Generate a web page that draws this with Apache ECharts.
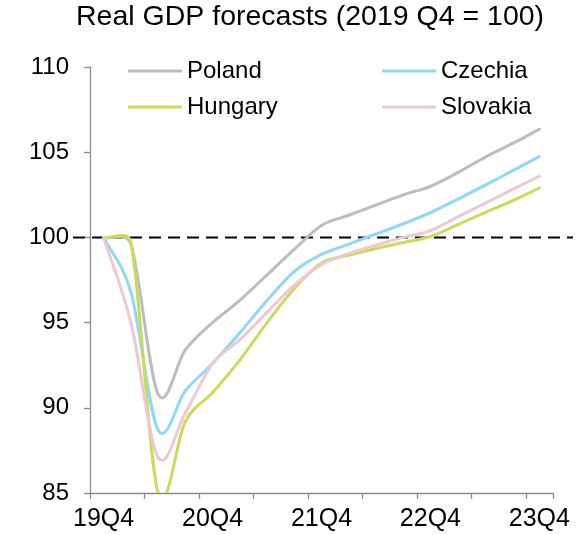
<!DOCTYPE html>
<html>
<head>
<meta charset="utf-8">
<script src="https://cdn.jsdelivr.net/npm/echarts@6/dist/echarts.min.js"></script>
<style>
  html, body { margin: 0; padding: 0; background: #ffffff; }
  #chart { width: 586px; height: 535px; }
</style>
</head>
<body>
<div id="chart"></div>
<script>
// Quarterly categories, 2019 Q4 through 2023 Q4
const quarters = ['19Q4', '20Q1', '20Q2', '20Q3', '20Q4', '21Q1', '21Q2', '21Q3', '21Q4',
                  '22Q1', '22Q2', '22Q3', '22Q4', '23Q1', '23Q2', '23Q3', '23Q4'];
// Quarters that carry a label on the x axis
const tickLabels = ['19Q4', '20Q4', '21Q4', '22Q4', '23Q4'];

// Real GDP index, 2019 Q4 = 100
const poland   = [100, 99.6, 90.8, 93.4, 95.0, 96.3, 97.8, 99.3, 100.7, 101.3, 101.9, 102.5, 103.0, 103.8, 104.7, 105.5, 106.35];
const czechia  = [100, 96.8, 88.7, 91.0, 92.6, 94.4, 96.3, 98.0, 99.0, 99.6, 100.2, 100.8, 101.45, 102.25, 103.05, 103.9, 104.75];
const hungary  = [100, 99.7, 85.0, 89.2, 90.9, 92.8, 95.0, 97.0, 98.5, 98.95, 99.35, 99.7, 100.05, 100.75, 101.45, 102.15, 102.9];
const slovakia = [100, 95.0, 87.1, 89.7, 92.6, 94.0, 95.6, 97.2, 98.4, 99.05, 99.55, 100.0, 100.4, 101.2, 102.0, 102.8, 103.6];

// Pre-pandemic reference level
const baseline = 100;

const FONT = '"Liberation Sans", Arial, sans-serif';
const AXIS_GREY = '#8c8c8c';

function dist(a, b) {
  return Math.hypot(b[0] - a[0], b[1] - a[1]);
}

// Smoothed line drawn as cubic Bezier segments (Catmull-Rom style tangents,
// with control arms limited to half of the segment length).
function smoothSeries(name, values, color) {
  return {
    name: name,
    type: 'custom',
    xAxisIndex: 0,
    yAxisIndex: 0,
    data: values.map((v, i) => [i, v]),
    encode: { x: 0, y: 1 },
    z: 3,
    itemStyle: { color: color },
    silent: true,
    renderItem: function (params, api) {
      const i = params.dataIndex;
      const n = values.length;
      if (i >= n - 1) return null;
      const P = k => {
        const kk = Math.max(0, Math.min(n - 1, k));
        return api.coord([kk, values[kk]]);
      };
      const p0 = P(i - 1), p1 = P(i), p2 = P(i + 1), p3 = P(i + 2);
      const d12 = dist(p1, p2);
      const d02 = dist(p0, p2);
      const d13 = dist(p1, p3);
      let f = (i === 0) ? 1 / 3 : 1 / 6;
      let g = (i + 2 > n - 1) ? 1 / 3 : 1 / 6;
      if (d02 > 0) f = Math.min(f, d12 / (2 * d02));
      if (d13 > 0) g = Math.min(g, d12 / (2 * d13));
      const c1 = [p1[0] + (p2[0] - p0[0]) * f, p1[1] + (p2[1] - p0[1]) * f];
      const c2 = [p2[0] - (p3[0] - p1[0]) * g, p2[1] - (p3[1] - p1[1]) * g];
      const cs = params.coordSys;
      return {
        type: 'group',
        clipPath: { type: 'rect', shape: { x: cs.x, y: cs.y, width: cs.width, height: cs.height } },
        children: [{
          type: 'bezierCurve',
          shape: {
            x1: p1[0], y1: p1[1],
            cpx1: c1[0], cpy1: c1[1],
            cpx2: c2[0], cpy2: c2[1],
            x2: p2[0], y2: p2[1]
          },
          style: { stroke: color, lineWidth: 3, fill: null, lineCap: 'round', lineJoin: 'round' }
        }]
      };
    }
  };
}

const legendCommon = {
  orient: 'vertical',
  icon: 'rect',
  itemWidth: 54,
  itemHeight: 3,
  itemGap: 12,
  padding: 0,
  textStyle: { fontFamily: FONT, fontSize: 24, color: '#000', lineHeight: 24 }
};

const chart = echarts.init(document.getElementById('chart'), null, { renderer: 'canvas' });

chart.setOption({
  animation: false,
  backgroundColor: '#ffffff',
  title: {
    text: 'Real GDP forecasts (2019 Q4 = 100)',
    left: 76,
    top: 3,
    padding: 0,
    textStyle: { fontFamily: FONT, fontSize: 28.5, fontWeight: 'normal', color: '#000' }
  },
  legend: [
    Object.assign({ data: ['Poland', 'Hungary'], left: 128, top: 59 }, legendCommon),
    Object.assign({ data: ['Czechia', 'Slovakia'], left: 382, top: 59 }, legendCommon)
  ],
  grid: [
    { left: 90, right: 33, top: 67, bottom: 42 },
    { left: 73, right: 13, top: 67, bottom: 42 }
  ],
  xAxis: [
    {
      type: 'category',
      gridIndex: 0,
      data: quarters,
      boundaryGap: true,
      axisLine: { show: true, lineStyle: { color: AXIS_GREY, width: 1.3 } },
      axisTick: {
        show: true,
        interval: 1,
        length: 6,
        inside: false,
        lineStyle: { color: AXIS_GREY, width: 1.3 }
      },
      axisLabel: {
        interval: (idx, val) => tickLabels.includes(val),
        margin: 14,
        fontFamily: FONT,
        fontSize: 25,
        color: '#000'
      },
      splitLine: { show: false }
    },
    {
      type: 'value',
      gridIndex: 1,
      min: 0,
      max: 1,
      show: false
    }
  ],
  yAxis: [
    {
      type: 'value',
      gridIndex: 0,
      min: 85,
      max: 110,
      interval: 5,
      axisLine: { show: true, lineStyle: { color: AXIS_GREY, width: 1.3 } },
      axisTick: { show: true, length: 6, inside: false, lineStyle: { color: AXIS_GREY, width: 1.3 } },
      axisLabel: { margin: 21, fontFamily: FONT, fontSize: 24, color: '#000' },
      splitLine: { show: false }
    },
    {
      type: 'value',
      gridIndex: 1,
      min: 85,
      max: 110,
      show: false
    }
  ],
  series: [
    {
      name: 'baseline',
      type: 'line',
      xAxisIndex: 1,
      yAxisIndex: 1,
      data: [[0, baseline], [1, baseline]],
      symbol: 'none',
      silent: true,
      z: 2,
      lineStyle: { color: '#000', width: 2, type: [12, 7] }
    },
    smoothSeries('Poland', poland, '#bdbdbd'),
    smoothSeries('Czechia', czechia, '#8ed8f8'),
    smoothSeries('Hungary', hungary, '#c9dc5a'),
    smoothSeries('Slovakia', slovakia, '#efc8d4')
  ]
});
</script>
</body>
</html>
